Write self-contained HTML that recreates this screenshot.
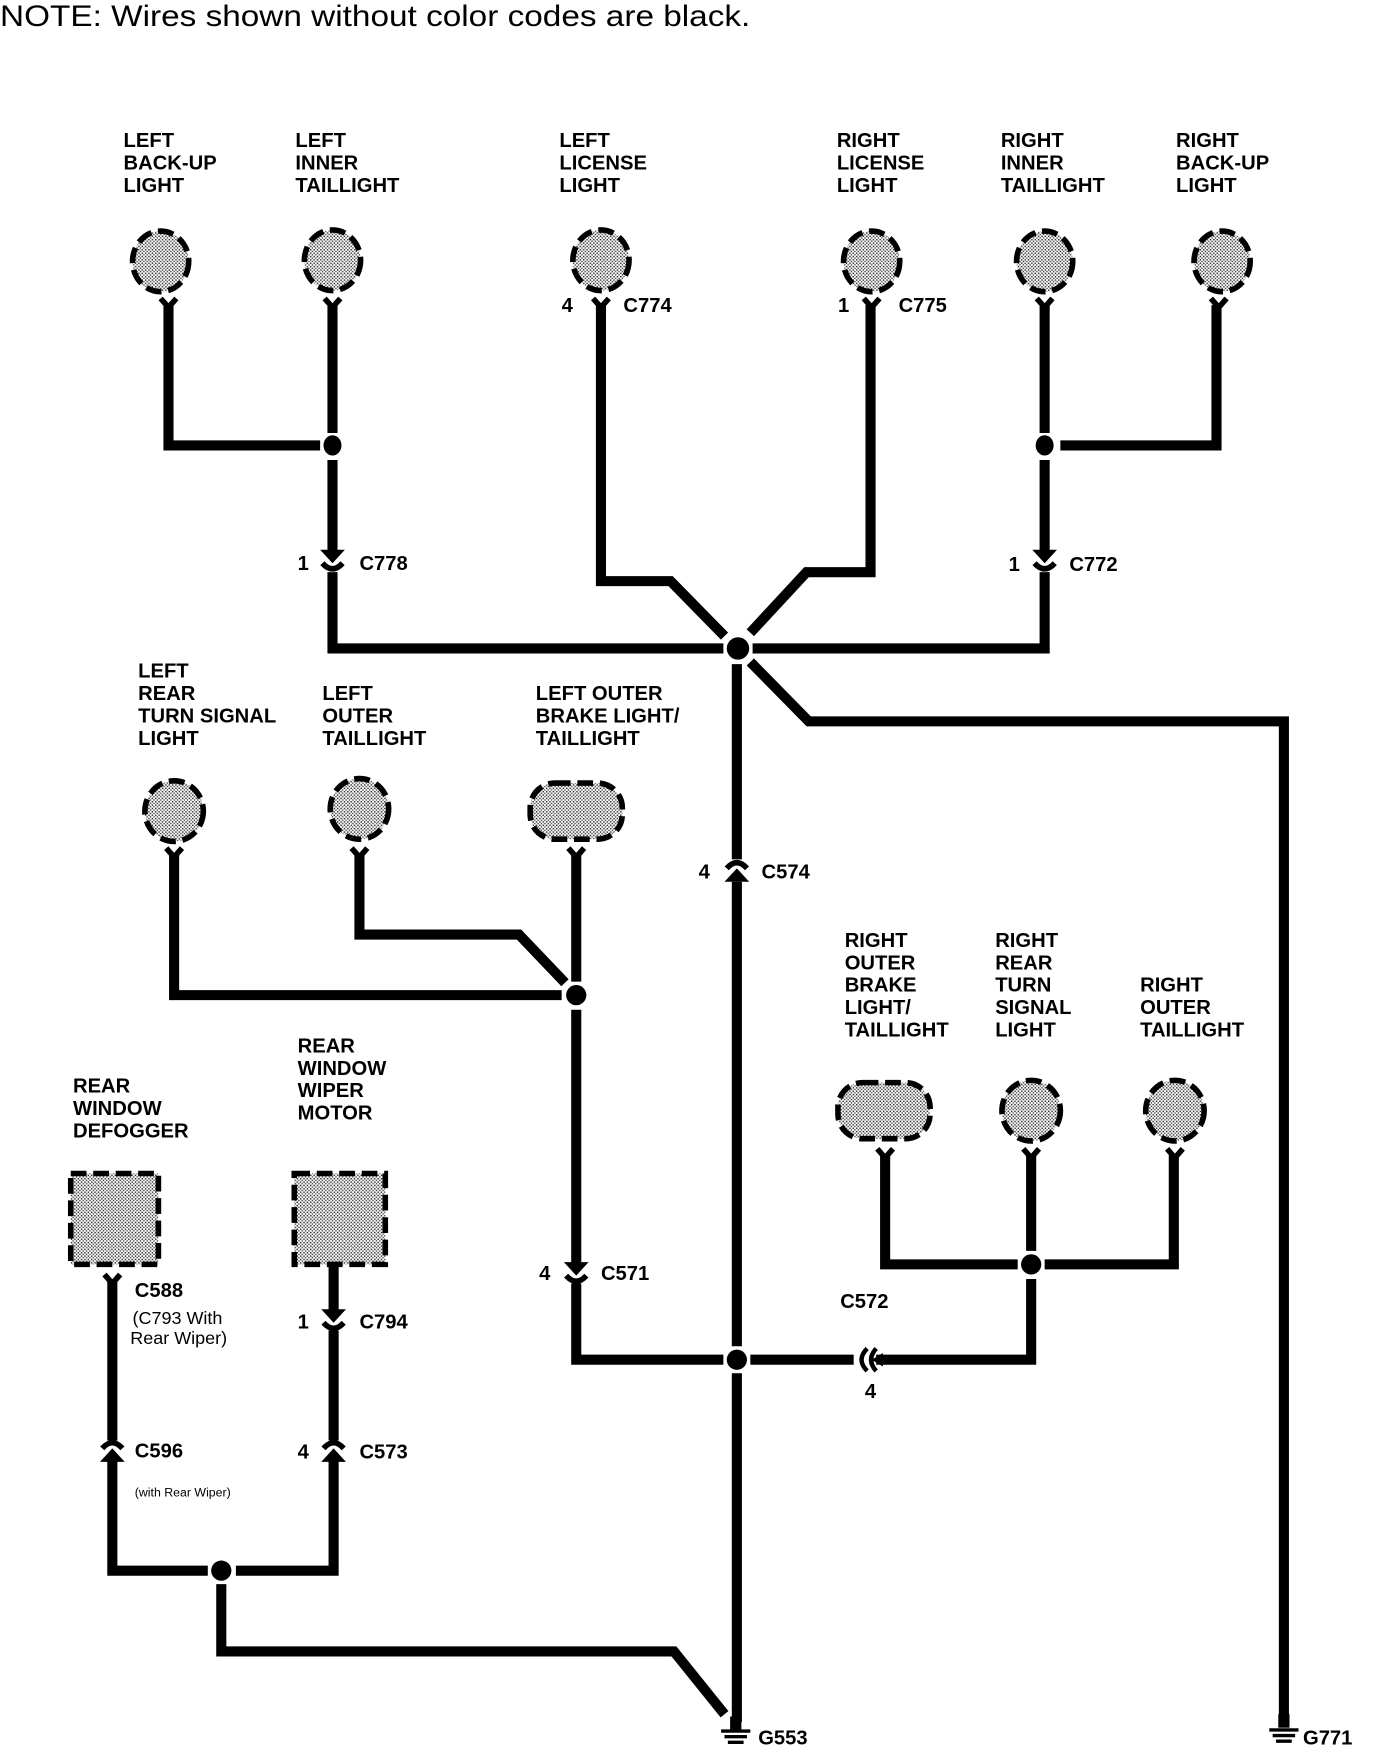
<!DOCTYPE html>
<html><head><meta charset="utf-8"><style>
html,body{margin:0;padding:0;background:#fff;}
svg{display:block;}
.t{font-family:"Liberation Sans",Arial,sans-serif;font-weight:bold;font-size:18px;fill:#000;}
.n{font-family:"Liberation Sans",Arial,sans-serif;font-size:26px;fill:#000;}
.w{stroke:#000;stroke-width:9;fill:none;stroke-linejoin:miter;}
.lamp{fill:url(#dots);stroke:#000;stroke-width:5;stroke-dasharray:14 6;}
</style></head><body>
<svg width="1376" height="1758" viewBox="0 0 1225 1567" preserveAspectRatio="none" xmlns="http://www.w3.org/2000/svg">
<defs>
<pattern id="dots" width="3" height="3" patternUnits="userSpaceOnUse">
<rect width="3" height="3" fill="#fff"/><rect width="1.3" height="1.3" fill="#333"/><rect x="1.5" y="1.5" width="1.2" height="1.2" fill="#333"/>
</pattern>
<g id="y"><path d="M-7,-6 L0,2 L7,-6" stroke="#000" stroke-width="5" fill="none"/></g>
<g id="dn"><path d="M-11,-10 L11,-10 L0,2 Z" fill="#000"/><path d="M-9,2 Q0,12 9,2" stroke="#000" stroke-width="5" fill="none"/></g>
<g id="up"><path d="M-11,10 L11,10 L0,-2 Z" fill="#000"/><path d="M-9,-2 Q0,-12 9,-2" stroke="#000" stroke-width="5" fill="none"/></g>
</defs>
<rect width="1225" height="1567" fill="#fff"/>
<text class="n" x="0" y="23" textLength="668" lengthAdjust="spacingAndGlyphs">NOTE: Wires shown without color codes are black.</text>

<g class="t">
<text x="110" y="131">LEFT</text><text x="110" y="151">BACK-UP</text><text x="110" y="171">LIGHT</text>
<text x="263" y="131">LEFT</text><text x="263" y="151">INNER</text><text x="263" y="171">TAILLIGHT</text>
<text x="498" y="131">LEFT</text><text x="498" y="151">LICENSE</text><text x="498" y="171">LIGHT</text>
<text x="745" y="131">RIGHT</text><text x="745" y="151">LICENSE</text><text x="745" y="171">LIGHT</text>
<text x="891" y="131">RIGHT</text><text x="891" y="151">INNER</text><text x="891" y="171">TAILLIGHT</text>
<text x="1047" y="131">RIGHT</text><text x="1047" y="151">BACK-UP</text><text x="1047" y="171">LIGHT</text>
<text x="500" y="278">4</text><text x="555" y="278">C774</text>
<text x="746" y="278">1</text><text x="800" y="278">C775</text>
<text x="265" y="508">1</text><text x="320" y="508">C778</text>
<text x="898" y="509">1</text><text x="952" y="509">C772</text>
<text x="123" y="604">LEFT</text><text x="123" y="624">REAR</text><text x="123" y="644">TURN SIGNAL</text><text x="123" y="664">LIGHT</text>
<text x="287" y="624">LEFT</text><text x="287" y="644">OUTER</text><text x="287" y="664">TAILLIGHT</text>
<text x="477" y="624">LEFT OUTER</text><text x="477" y="644">BRAKE LIGHT/</text><text x="477" y="664">TAILLIGHT</text>
<text x="622" y="783">4</text><text x="678" y="783">C574</text>
<text x="752" y="844">RIGHT</text><text x="752" y="864">OUTER</text><text x="752" y="884">BRAKE</text><text x="752" y="904">LIGHT/</text><text x="752" y="924">TAILLIGHT</text>
<text x="886" y="844">RIGHT</text><text x="886" y="864">REAR</text><text x="886" y="884">TURN</text><text x="886" y="904">SIGNAL</text><text x="886" y="924">LIGHT</text>
<text x="1015" y="884">RIGHT</text><text x="1015" y="904">OUTER</text><text x="1015" y="924">TAILLIGHT</text>
<text x="265" y="938">REAR</text><text x="265" y="958">WINDOW</text><text x="265" y="978">WIPER</text><text x="265" y="998">MOTOR</text>
<text x="65" y="974">REAR</text><text x="65" y="994">WINDOW</text><text x="65" y="1014">DEFOGGER</text>
<text x="480" y="1141">4</text><text x="535" y="1141">C571</text>
<text x="748" y="1166">C572</text><text x="770" y="1246">4</text>
<text x="120" y="1156">C588</text>
<text x="265" y="1184">1</text><text x="320" y="1184">C794</text>
<text x="120" y="1299">C596</text>
<text x="265" y="1300">4</text><text x="320" y="1300">C573</text>
<text x="675" y="1555">G553</text><text x="1160" y="1555">G771</text>
</g>
<g style="font-family:'Liberation Sans',Arial,sans-serif;font-size:16px;fill:#000">
<text x="118" y="1180">(C793 With</text><text x="116" y="1198">Rear Wiper)</text>
<text x="120" y="1334" style="font-size:11px">(with Rear Wiper)</text>
</g>

<ellipse class="lamp" cx="143" cy="233" rx="25" ry="27"/>
<ellipse class="lamp" cx="296" cy="232" rx="25" ry="27"/>
<ellipse class="lamp" cx="535" cy="232" rx="25" ry="27"/>
<ellipse class="lamp" cx="776" cy="233" rx="25" ry="27"/>
<ellipse class="lamp" cx="930" cy="233" rx="25" ry="27"/>
<ellipse class="lamp" cx="1088" cy="233" rx="25" ry="27"/>
<ellipse class="lamp" cx="155" cy="723" rx="26" ry="27"/>
<ellipse class="lamp" cx="320" cy="721" rx="26" ry="27"/>
<rect class="lamp" x="472" y="698" width="82" height="50" rx="22"/>
<rect class="lamp" x="746" y="965" width="82" height="50" rx="22"/>
<ellipse class="lamp" cx="918" cy="990" rx="26" ry="27"/>
<ellipse class="lamp" cx="1046" cy="990" rx="26" ry="27"/>
<rect class="lamp" x="63" y="1046" width="78" height="81"/>
<rect class="lamp" x="262" y="1046" width="81" height="81"/>

<use href="#y" x="150" y="272"/><use href="#y" x="296" y="272"/><use href="#y" x="535" y="272"/>
<use href="#y" x="776" y="272"/><use href="#y" x="930" y="272"/><use href="#y" x="1085" y="272"/>
<use href="#y" x="155" y="762"/><use href="#y" x="320" y="762"/><use href="#y" x="513" y="762"/>
<use href="#y" x="788" y="1030"/><use href="#y" x="918" y="1030"/><use href="#y" x="1046" y="1030"/>
<use href="#y" x="100" y="1142"/>

<path class="w" d="M150,272 V397 H285"/>
<path class="w" d="M296,272 V386 M296,410 V492 M296,510 V578 H644"/>
<path class="w" d="M535,272 V518 H597 L645,567"/>
<path class="w" d="M775,272 V510 H718 L668,564"/>
<path class="w" d="M930,272 V386 M930,410 V492 M930,510 V578 H670"/>
<path class="w" d="M1083,272 V397 H944"/>
<path class="w" d="M668,590 L720,643 H1143 V1532"/>
<path class="w" d="M656,592 V766 M656,786 V1200 M656,1224 V1535"/>
<path class="w" d="M155,762 V887 H500"/>
<path class="w" d="M320,762 V833 H462 L503,876"/>
<path class="w" d="M513,762 V875 M513,900 V1126 M513,1144 V1212 H644"/>
<path class="w" d="M668,1212 H760 M780,1212 H918 V1140 M918,1115 V1030"/>
<path class="w" d="M788,1030 V1127 H906 M930,1127 H1045 V1030"/>
<path class="w" d="M100,1142 V1284 M100,1302 V1400 H185"/>
<path class="w" d="M297,1127 V1168 M297,1186 V1284 M297,1302 V1400 H210"/>
<path class="w" d="M197,1412 V1472 H600 L645,1528"/>

<ellipse cx="296" cy="397" rx="8" ry="9"/><ellipse cx="930" cy="397" rx="8" ry="9"/>
<circle cx="657" cy="578" r="10"/><circle cx="513" cy="887" r="9"/>
<circle cx="656" cy="1212" r="9"/><circle cx="918" cy="1127" r="9"/>
<circle cx="197" cy="1400" r="9"/>

<use href="#dn" x="296" y="500"/><use href="#dn" x="930" y="500"/>
<use href="#dn" x="513" y="1135"/><use href="#dn" x="297" y="1177"/>
<use href="#up" x="656" y="776"/><use href="#up" x="100" y="1293"/><use href="#up" x="297" y="1293"/>
<path d="M772,1202 Q762,1212 772,1222 M780,1202 Q771,1212 780,1222" stroke="#000" stroke-width="4" fill="none"/>
<path d="M776,1212 L786,1206 V1218 Z" fill="#000"/>

<g stroke="#000" stroke-width="3">
<rect x="650" y="1530" width="10" height="12" fill="#000" stroke="none"/>
<line x1="642" y1="1543" x2="668" y2="1543"/><line x1="645" y1="1548" x2="665" y2="1548"/><line x1="648" y1="1553" x2="662" y2="1553"/>
<rect x="1138" y="1528" width="10" height="12" fill="#000" stroke="none"/>
<line x1="1130" y1="1542" x2="1156" y2="1542"/><line x1="1133" y1="1547" x2="1153" y2="1547"/><line x1="1136" y1="1552" x2="1150" y2="1552"/>
</g>
</svg>
</body></html>
